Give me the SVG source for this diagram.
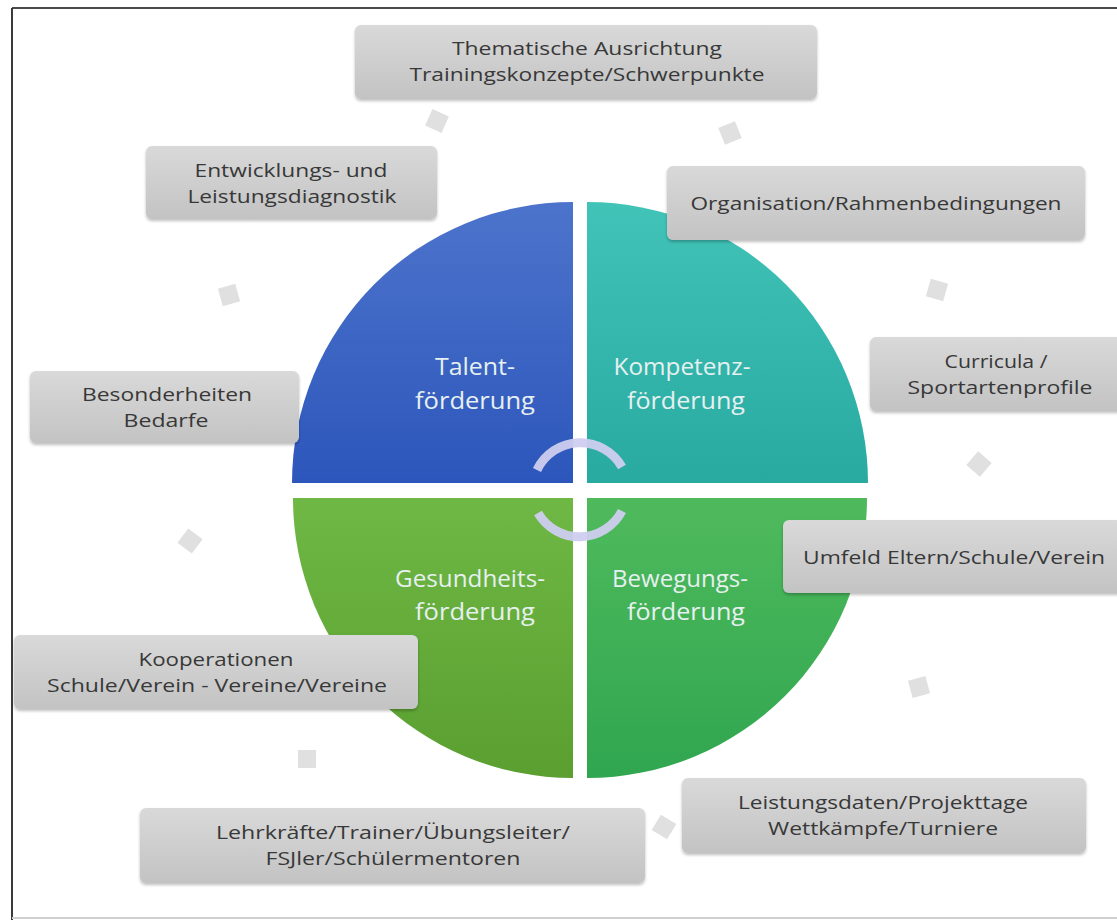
<svg xmlns="http://www.w3.org/2000/svg" width="1117" height="920" viewBox="0 0 1117 920">
<defs>
<linearGradient id="gBox" x1="0" y1="0" x2="0" y2="1">
<stop offset="0" stop-color="#d9d9d9"/><stop offset="1" stop-color="#c3c3c3"/>
</linearGradient>
<linearGradient id="gBlue" x1="0" y1="0" x2="0" y2="1">
<stop offset="0" stop-color="#4d74cc"/><stop offset="1" stop-color="#2c56bb"/>
</linearGradient>
<linearGradient id="gTeal" x1="0" y1="0" x2="0" y2="1">
<stop offset="0" stop-color="#42c3b8"/><stop offset="1" stop-color="#28aaa1"/>
</linearGradient>
<linearGradient id="gGreenL" x1="0" y1="0" x2="0" y2="1">
<stop offset="0" stop-color="#6fb845"/><stop offset="1" stop-color="#5a9f30"/>
</linearGradient>
<linearGradient id="gGreenR" x1="0" y1="0" x2="0" y2="1">
<stop offset="0" stop-color="#4fba5c"/><stop offset="1" stop-color="#30a650"/>
</linearGradient>
<filter id="sh" x="-5%" y="-20%" width="110%" height="150%">
<feDropShadow dx="0" dy="2" stdDeviation="1.5" flood-color="#000" flood-opacity="0.25"/>
</filter>
</defs>
<style>
.box{fill:url(#gBox);filter:url(#sh)}
.bt{font-family:"Open Sans","Liberation Sans",sans-serif;font-size:19px;fill:#383838;text-anchor:middle}
.qt{font-family:"Open Sans","Liberation Sans",sans-serif;font-size:24px;fill:#e6f0f0;text-anchor:middle}
.dm{fill:#e0e0e0}
.arc{fill:none;stroke:#cfcdef;stroke-width:9;stroke-linecap:butt;opacity:0.95}
</style>
<rect x="0" y="0" width="1117" height="920" fill="#ffffff"/>
<line x1="12" y1="8" x2="1117" y2="8" stroke="#4a4a4a" stroke-width="2"/>
<line x1="12" y1="8" x2="12" y2="920" stroke="#3a3a3a" stroke-width="2"/>
<line x1="12" y1="918" x2="1117" y2="918" stroke="#d0d0d0" stroke-width="2"/>

<g id="quadrants">
<g id="q-talent">
<path d="M573,483 L292,483 A281,281 0 0 1 573,202 Z" fill="url(#gBlue)"/>
<text class="qt" x="475" y="375" textLength="80" lengthAdjust="spacingAndGlyphs">Talent-</text>
<text class="qt" x="475" y="409" textLength="120" lengthAdjust="spacingAndGlyphs">förderung</text>
</g>
<g id="q-kompetenz">
<path d="M587,483 L587,202 A281,281 0 0 1 868,483 Z" fill="url(#gTeal)"/>
<text class="qt" x="682" y="375" textLength="137" lengthAdjust="spacingAndGlyphs">Kompetenz-</text>
<text class="qt" x="686" y="409" textLength="118" lengthAdjust="spacingAndGlyphs">förderung</text>
</g>
<g id="q-gesundheit">
<path d="M573,498 L573,778 A280,280 0 0 1 293,498 Z" fill="url(#gGreenL)"/>
<text class="qt" x="470" y="587" textLength="150" lengthAdjust="spacingAndGlyphs">Gesundheits-</text>
<text class="qt" x="475" y="620" textLength="120" lengthAdjust="spacingAndGlyphs">förderung</text>
</g>
<g id="q-bewegung">
<path d="M587,498 L867,498 A280,280 0 0 1 587,778 Z" fill="url(#gGreenR)"/>
<text class="qt" x="680" y="587" textLength="136" lengthAdjust="spacingAndGlyphs">Bewegungs-</text>
<text class="qt" x="686" y="620" textLength="118" lengthAdjust="spacingAndGlyphs">förderung</text>
</g>
</g>

<g id="connectors">
<path class="arc" d="M537,470 A48,48 0 0 1 622,467"/>
<path class="arc" d="M622,511 A48,48 0 0 1 538,513"/>
<rect class="dm" x="-9" y="-9" width="18" height="18" transform="translate(437,121) rotate(-66)"/>
<rect class="dm" x="-9" y="-9" width="18" height="18" transform="translate(730,133) rotate(-22)"/>
<rect class="dm" x="-9" y="-9" width="18" height="18" transform="translate(229,295) rotate(-106)"/>
<rect class="dm" x="-9" y="-9" width="18" height="18" transform="translate(937,290) rotate(16)"/>
<rect class="dm" x="-9" y="-9" width="18" height="18" transform="translate(979,464) rotate(41)"/>
<rect class="dm" x="-9" y="-9" width="18" height="18" transform="translate(190,541) rotate(217)"/>
<rect class="dm" x="-9" y="-9" width="18" height="18" transform="translate(919,687) rotate(75)"/>
<rect class="dm" x="-9" y="-9" width="18" height="18" transform="translate(307,759) rotate(180)"/>
<rect class="dm" x="-9" y="-9" width="18" height="18" transform="translate(664,827) rotate(121)"/>
</g>

<g id="n-thematik">
<rect class="box" x="355" y="25" width="462" height="74" rx="6"/>
<text class="bt" x="587" y="55" textLength="270" lengthAdjust="spacingAndGlyphs">Thematische Ausrichtung</text>
<text class="bt" x="587" y="81" textLength="355" lengthAdjust="spacingAndGlyphs">Trainingskonzepte/Schwerpunkte</text>
</g>
<g id="n-diagnostik">
<rect class="box" x="146" y="146" width="291" height="73" rx="6"/>
<text class="bt" x="291" y="177" textLength="193" lengthAdjust="spacingAndGlyphs">Entwicklungs- und</text>
<text class="bt" x="292" y="203" textLength="209" lengthAdjust="spacingAndGlyphs">Leistungsdiagnostik</text>
</g>
<g id="n-organisation">
<rect class="box" x="667" y="166" width="418" height="74" rx="6"/>
<text class="bt" x="876" y="210" textLength="371" lengthAdjust="spacingAndGlyphs">Organisation/Rahmenbedingungen</text>
</g>
<g id="n-curricula">
<rect class="box" x="870" y="337" width="262" height="74" rx="6"/>
<text class="bt" x="996" y="368" textLength="103" lengthAdjust="spacingAndGlyphs">Curricula /</text>
<text class="bt" x="1000" y="394" textLength="185" lengthAdjust="spacingAndGlyphs">Sportartenprofile</text>
</g>
<g id="n-besonderheiten">
<rect class="box" x="30" y="371" width="269" height="72" rx="6"/>
<text class="bt" x="167" y="401" textLength="170" lengthAdjust="spacingAndGlyphs">Besonderheiten</text>
<text class="bt" x="166" y="427" textLength="85" lengthAdjust="spacingAndGlyphs">Bedarfe</text>
</g>
<g id="n-umfeld">
<rect class="box" x="783" y="520" width="349" height="73" rx="6"/>
<text class="bt" x="954" y="564" textLength="302" lengthAdjust="spacingAndGlyphs">Umfeld Eltern/Schule/Verein</text>
</g>
<g id="n-kooperationen">
<rect class="box" x="14" y="635" width="404" height="74" rx="6"/>
<text class="bt" x="216" y="666" textLength="155" lengthAdjust="spacingAndGlyphs">Kooperationen</text>
<text class="bt" x="217" y="692" textLength="340" lengthAdjust="spacingAndGlyphs">Schule/Verein - Vereine/Vereine</text>
</g>
<g id="n-leistungsdaten">
<rect class="box" x="682" y="778" width="404" height="75" rx="6"/>
<text class="bt" x="883" y="809" textLength="290" lengthAdjust="spacingAndGlyphs">Leistungsdaten/Projekttage</text>
<text class="bt" x="883" y="835" textLength="230" lengthAdjust="spacingAndGlyphs">Wettkämpfe/Turniere</text>
</g>
<g id="n-lehrkraefte">
<rect class="box" x="140" y="808" width="505" height="75" rx="6"/>
<text class="bt" x="393" y="839" textLength="354" lengthAdjust="spacingAndGlyphs">Lehrkräfte/Trainer/Übungsleiter/</text>
<text class="bt" x="393" y="865" textLength="255" lengthAdjust="spacingAndGlyphs">FSJler/Schülermentoren</text>
</g>
</svg>
